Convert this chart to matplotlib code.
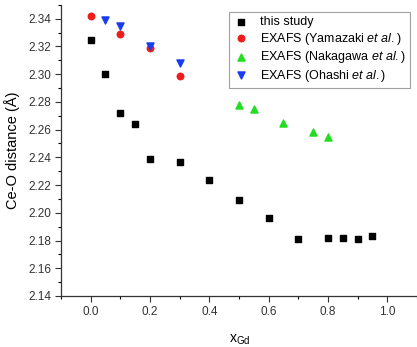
import matplotlib
matplotlib.use("Agg")
import matplotlib.pyplot as plt
from matplotlib.ticker import MultipleLocator

plt.rcParams['font.family'] = ['Liberation Sans', 'DejaVu Sans']
plt.rcParams['mathtext.fontset'] = 'custom'
plt.rcParams['mathtext.rm'] = 'Liberation Sans'
plt.rcParams['mathtext.it'] = 'Liberation Sans:italic'

x_this = [0.0, 0.05, 0.1, 0.15, 0.2, 0.3, 0.4, 0.5, 0.6, 0.7, 0.8, 0.85, 0.9, 0.95]
y_this = [2.325, 2.300, 2.272, 2.264, 2.239, 2.237, 2.224, 2.209, 2.196, 2.181, 2.182, 2.182, 2.181, 2.183]
x_yam = [0.0, 0.1, 0.2, 0.3]
y_yam = [2.342, 2.329, 2.319, 2.299]
x_nak = [0.5, 0.55, 0.65, 0.75, 0.8]
y_nak = [2.278, 2.275, 2.265, 2.258, 2.255]
x_oha = [0.05, 0.1, 0.2, 0.3]
y_oha = [2.339, 2.335, 2.320, 2.308]

fig = plt.figure(figsize=(4.17, 3.47), dpi=100)
ax = fig.add_axes([0.146, 0.147, 0.854, 0.839])

ax.scatter(x_this, y_this, marker='s', s=16, color='black', label='this study', zorder=3)
ax.scatter(x_yam, y_yam, marker='o', s=22, color='#ee1c1c', label='EXAFS (Yamazaki $\\mathit{et\\ al.}$)', zorder=3)
ax.scatter(x_nak, y_nak, marker='^', s=26, color='#22dd22', label='EXAFS (Nakagawa $\\mathit{et\\ al.}$)', zorder=3)
ax.scatter(x_oha, y_oha, marker='v', s=26, color='#1a3cf0', label='EXAFS (Ohashi $\\mathit{et\\ al.}$)', zorder=4)

ax.set_xlim(-0.1, 1.1)
ax.set_ylim(2.14, 2.35)
ax.set_xticks([0.0, 0.2, 0.4, 0.6, 0.8, 1.0])
ax.set_yticks([2.14, 2.16, 2.18, 2.20, 2.22, 2.24, 2.26, 2.28, 2.30, 2.32, 2.34])
ax.xaxis.set_minor_locator(MultipleLocator(0.1))
ax.yaxis.set_minor_locator(MultipleLocator(0.01))
ax.tick_params(which='major', direction='out', length=4, width=0.8, labelsize=8.5, colors='#333333', pad=3)
ax.tick_params(which='minor', direction='out', length=2, width=0.8)
ax.spines['top'].set_visible(False)
ax.spines['right'].set_visible(False)
for s in ['left', 'bottom']:
    ax.spines[s].set_color('#333333')
    ax.spines[s].set_linewidth(0.9)

ax.set_ylabel('Ce-O distance (Å)', fontsize=10.5)
ax.yaxis.set_label_coords(-0.115, 0.5)
ax.set_xlabel('x$_{\\mathregular{Gd}}$', fontsize=10)
ax.xaxis.set_label_coords(0.503, -0.125)

leg = ax.legend(loc='upper left', bbox_to_anchor=(0.472, 0.976), borderaxespad=0, fontsize=9,
                frameon=True, fancybox=False, edgecolor='#888888', handletextpad=0.9,
                borderpad=0.35, labelspacing=0.2, handlelength=1.2, scatterpoints=1)
leg.get_frame().set_linewidth(0.8)

fig.savefig('out.png', dpi=100)
